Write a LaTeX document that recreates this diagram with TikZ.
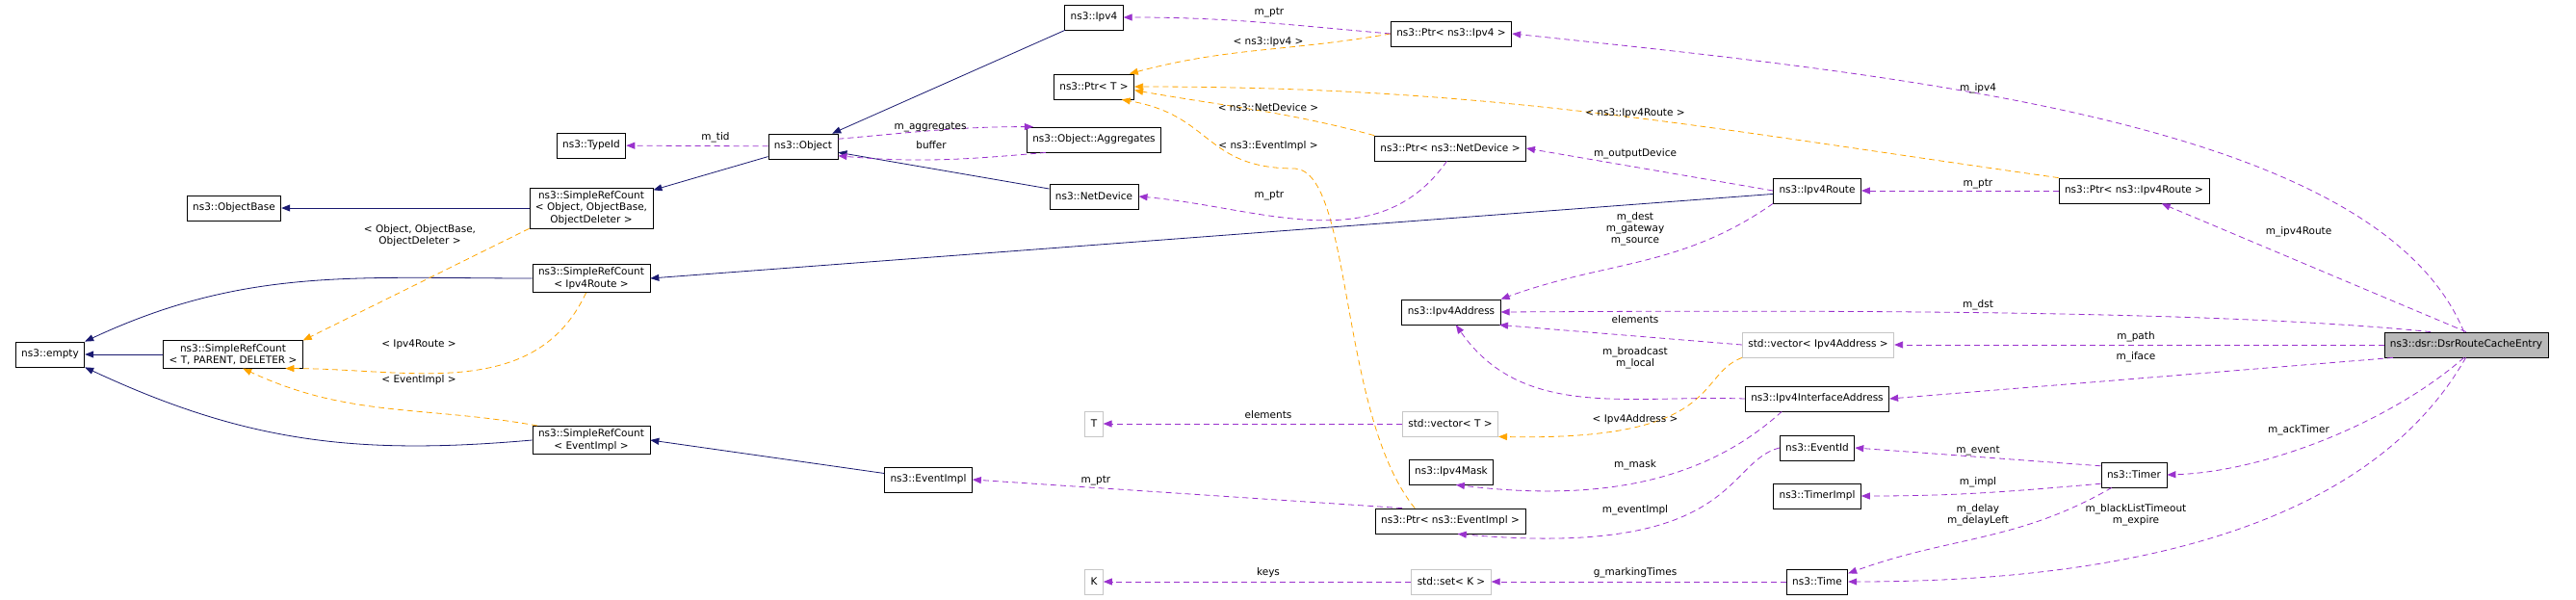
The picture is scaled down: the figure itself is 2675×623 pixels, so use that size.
\documentclass[tikz,border=0pt]{standalone}
\usepackage{fontspec}
\setmainfont{DejaVu Sans}
\usetikzlibrary{arrows.meta}
\definecolor{inhcol}{HTML}{191970}
\definecolor{usecol}{HTML}{9A32CD}
\definecolor{tplcol}{HTML}{FFA500}
\tikzset{
 b/.style
  = {rectangle, draw, thick, fill=white, font=\fontsize{10.5}{12.5}\selectfont,
     minimum height=26pt, inner xsep=6pt, align=center},
 g/.style
  = {b, draw=gray!45},
 m/.style
  = {b, fill=gray!55},
 lab/.style
  = {font=\fontsize{10.5}{12}\selectfont, align=center, inner sep=1pt},
 inh/.style
  = {draw=inhcol, thick, -{Triangle[length=9pt,width=7pt]}},
 use/.style
  = {draw=usecol, thick, dashed, dash pattern=on 6pt off 4pt, -{Triangle[length=9pt,width=7pt]}, color=usecol},
 tpl/.style
  = {draw=tplcol, thick, dash pattern=on 6pt off 4pt, -{Triangle[length=9pt,width=7pt]}, color=tplcol},
}
\begin{document}
\begin{tikzpicture}[x=1pt,y=-1pt]
    \useasboundingbox (0,0) rectangle (2675,623);
    % left part
    \node [b] (empty) at (52,368) {ns3::empty};
    \node [b] (srct) at (242,368) {ns3::SimpleRefCount\\ < T, PARENT, DELETER >};
    \node [b] (objbase) at (243,216) {ns3::ObjectBase};
    \node [b] (srcobj) at (614,216) {ns3::SimpleRefCount\\ < Object, ObjectBase,\\ ObjectDeleter >};
    \node [b] (srcroute) at (614,289) {ns3::SimpleRefCount\\ < Ipv4Route >};
    \node [b] (srcevent) at (614,457) {ns3::SimpleRefCount\\ < EventImpl >};
    \node [b] (typeid) at (614,151) {ns3::TypeId};
    \node [b] (object) at (834,152) {ns3::Object};
    \node [b] (eventimpl) at (964,498) {ns3::EventImpl};
    % middle part
    \node [b] (ipv4) at (1136,18) {ns3::Ipv4};
    \node [b] (ptrt) at (1136,90) {ns3::Ptr< T >};
    \node [b] (aggr) at (1136,145) {ns3::Object::Aggregates};
    \node [b] (netdev) at (1136,204) {ns3::NetDevice};
    \node [g] (tnode) at (1136,440) {T};
    \node [g] (knode) at (1136,604) {K};
    \node [b] (pipv4) at (1507,35) {ns3::Ptr< ns3::Ipv4 >};
    \node [b] (pnetdev) at (1506,154) {ns3::Ptr< ns3::NetDevice >};
    \node [b] (ipv4addr) at (1507,324) {ns3::Ipv4Address};
    \node [g] (vect) at (1506,440) {std::vector< T >};
    \node [b] (ipv4mask) at (1507,490) {ns3::Ipv4Mask};
    \node [b] (pevent) at (1506,541) {ns3::Ptr< ns3::EventImpl >};
    \node [g] (setk) at (1507,604) {std::set< K >};
    % right part
    \node [b] (ipv4route) at (1887,198) {ns3::Ipv4Route};
    \node [g] (vecaddr) at (1888,358) {std::vector< Ipv4Address >};
    \node [b] (ifaceaddr) at (1887,414) {ns3::Ipv4InterfaceAddress};
    \node [b] (eventid) at (1887,465) {ns3::EventId};
    \node [b] (timerimpl) at (1887,515) {ns3::TimerImpl};
    \node [b] (time) at (1887,604) {ns3::Time};
    \node [b] (pipv4route) at (2216,198) {ns3::Ptr< ns3::Ipv4Route >};
    \node [b] (timer) at (2216,493) {ns3::Timer};
    \node [m] (dsr) at (2561,358) {ns3::dsr::DsrRouteCacheEntry};

    % inheritance
    \path [inh] (ipv4) -- (object);
    \path [inh] (netdev) -- (object);
    \path [inh] (object) -- (srcobj);
    \path [inh] (srcobj) -- (objbase);
    \path [inh] (srct) -- (empty);
    \path [inh] (srcroute.west) to[out=180,in=25] (empty.north east);
    \path [inh] (srcevent.west) to[out=185,in=-25] (empty.south east);
    \path [inh] (ipv4route) -- (srcroute.east);
    \path [inh] (eventimpl) -- (srcevent.east);

    % templates
    \path [tpl] (srcobj.south west) -- (srct.north east);
    \path [tpl] (srcroute.250) to[out=-115,in=0] (srct.-15);
    \path [tpl] (srcevent.165) to[out=170,in=-25] (srct.-55);
    \path [tpl] (pipv4.west) to[out=190,in=15] (ptrt.20);
    \path [tpl] (pnetdev.north west) to[out=165,in=-10] (ptrt.-5);
    \path [tpl] (pipv4route.north west) to[out=172,in=0] (ptrt.east);
    \path [tpl] (pevent.160) .. controls (1390,430) and (1405,180) .. (1345,175)
        .. controls (1250,175) and (1260,120) .. (ptrt.-25);
    \path [tpl] (vecaddr.south west) .. controls (1760,390) and (1790,458) .. (vect.-15);

    % members
    \path [use] (object) -- (typeid);
    \path [use] (object.12) to[out=5,in=180] (aggr.168);
    \path [use] (aggr.195) to[out=185,in=-5] (object.-15);
    \path [use] (pipv4.west) to[out=175,in=0] (ipv4.east);
    \path [use] (pnetdev.255) to[out=-125,in=-5] (netdev.east);
    \path [use] (ipv4route.west) -- (pnetdev.east);
    \path [use] (ipv4route.south west) to[out=-145,in=20] (ipv4addr.north east);
    \path [use] (pipv4route) -- (ipv4route);
    \path [use] (dsr.100) .. controls (2470,130) and (2000,80) .. (pipv4.east);
    \path [use] (dsr.north) -- (pipv4route.-25);
    \path [use] (dsr.160) .. controls (2300,322) and (1900,322) .. (ipv4addr.east);
    \path [use] (vecaddr.west) -- (ipv4addr.-15);
    \path [use] (ifaceaddr.west) to[out=178,in=-55] (ipv4addr.-70);
    \path [use] (dsr) -- (vecaddr);
    \path [use] (dsr.-170) -- (ifaceaddr.east);
    \path [use] (vect) -- (tnode);
    \path [use] (ifaceaddr.-160) .. controls (1765,505) and (1650,520) .. (ipv4mask.-70);
    \path [use] (pevent.165) -- (eventimpl.east);
    \path [use] (eventid.west) .. controls (1790,480) and (1805,580) .. (pevent.-60);
    \path [use] (timer.165) -- (eventid.east);
    \path [use] (timer.195) to[out=185,in=0] (timerimpl.east);
    \path [use] (timer.-150) to[out=-150,in=20] (time.15);
    \path [use] (dsr.-100) .. controls (2480,440) and (2350,490) .. (timer.east);
    \path [use] (dsr.-92) .. controls (2470,530) and (2250,604) .. (time.east);
    \path [use] (setk) -- (knode);
    \path [use] (time) -- (setk);

    % labels
    \node [lab] at (743,143) {m\_tid};
    \node [lab] at (966,132) {m\_aggregates};
    \node [lab] at (967,151) {buffer};
    \node [lab] at (1318,13) {m\_ptr};
    \node [lab] at (1317,44) {< ns3::Ipv4 >};
    \node [lab] at (1317,112) {< ns3::NetDevice >};
    \node [lab] at (1317,152) {< ns3::EventImpl >};
    \node [lab] at (1698,118) {< ns3::Ipv4Route >};
    \node [lab] at (1318,203) {m\_ptr};
    \node [lab] at (1698,160) {m\_outputDevice};
    \node [lab] at (1698,238) {m\_dest\\ m\_gateway\\ m\_source};
    \node [lab] at (1698,332) {elements};
    \node [lab] at (1698,372) {m\_broadcast\\ m\_local};
    \node [lab] at (1317,431) {elements};
    \node [lab] at (1698,436) {< Ipv4Address >};
    \node [lab] at (1698,483) {m\_mask};
    \node [lab] at (1138,499) {m\_ptr};
    \node [lab] at (1698,530) {m\_eventImpl};
    \node [lab] at (1317,595) {keys};
    \node [lab] at (1698,595) {g\_markingTimes};
    \node [lab] at (2054,92) {m\_ipv4};
    \node [lab] at (2054,191) {m\_ptr};
    \node [lab] at (2387,241) {m\_ipv4Route};
    \node [lab] at (2054,317) {m\_dst};
    \node [lab] at (2218,350) {m\_path};
    \node [lab] at (2218,371) {m\_iface};
    \node [lab] at (2387,447) {m\_ackTimer};
    \node [lab] at (2054,468) {m\_event};
    \node [lab] at (2054,501) {m\_impl};
    \node [lab] at (2054,535) {m\_delay\\ m\_delayLeft};
    \node [lab] at (2218,535) {m\_blackListTimeout\\ m\_expire};
    \node [lab] at (436,245) {< Object, ObjectBase,\\ ObjectDeleter >};
    \node [lab] at (435,358) {< Ipv4Route >};
    \node [lab] at (435,395) {< EventImpl >};
  \end{tikzpicture}
\end{document}
